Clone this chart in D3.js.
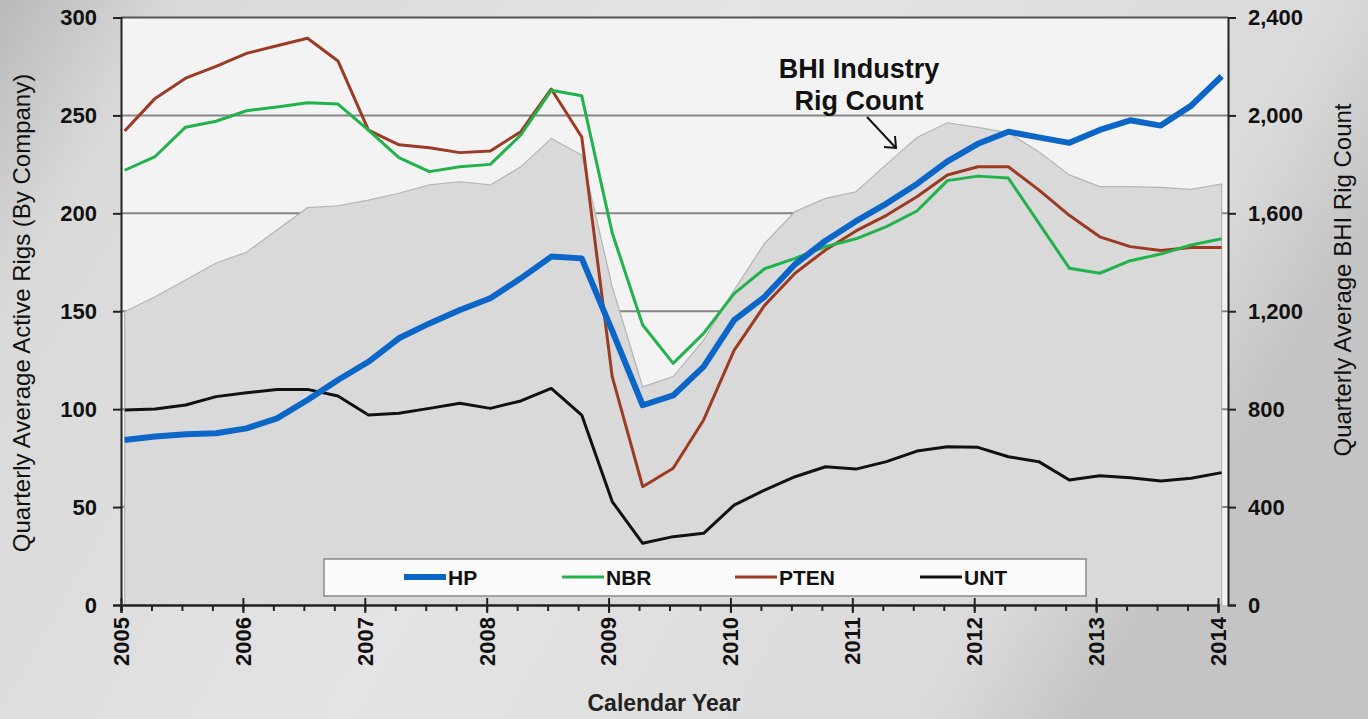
<!DOCTYPE html>
<html>
<head>
<meta charset="utf-8">
<script src="https://cdn.jsdelivr.net/npm/d3@7"></script>
<style>
  html, body { margin: 0; padding: 0; background: #d0d0d0; }
  svg { display: block; font-family: "Liberation Sans", Arial, sans-serif; }
</style>
</head>
<body>
<svg width="1368" height="719"></svg>
<script>
// quarterly averages, 2005 Q1 .. 2014 Q1
var quarters = ["2005Q1","2005Q2","2005Q3","2005Q4","2006Q1","2006Q2","2006Q3","2006Q4",
  "2007Q1","2007Q2","2007Q3","2007Q4","2008Q1","2008Q2","2008Q3","2008Q4",
  "2009Q1","2009Q2","2009Q3","2009Q4","2010Q1","2010Q2","2010Q3","2010Q4",
  "2011Q1","2011Q2","2011Q3","2011Q4","2012Q1","2012Q2","2012Q3","2012Q4",
  "2013Q1","2013Q2","2013Q3","2013Q4","2014Q1"];

var hp = [84.3, 86, 87.2, 87.7, 90.2, 95.3, 104.7, 114.9, 124.2, 136.2, 143.8, 150.6,
  156.6, 166.8, 177.9, 177, 140, 102, 107, 121.7, 145.5, 157.4, 174, 186,
  196, 205, 215, 226.5, 235.5, 241.7, 238.8, 236, 242.6, 247.5, 244.8, 255, 270];

var nbr = [222, 229, 244, 247, 252.4, 254.3, 256.5, 255.8, 242.5, 228.4, 221.3, 223.8,
  225, 240, 262.8, 260, 190, 143, 123.4, 138.7, 159, 171.7, 177, 183,
  187, 193.2, 201.2, 216.7, 219, 218, 195, 172, 169.4, 175.8, 179.2, 183.8, 187];

var pten = [242, 258.7, 269, 275, 281.7, 285.6, 289.4, 277.8, 242.5, 235, 233.5, 231,
  231.8, 241.7, 263.5, 239, 116.6, 60.4, 69.8, 94.5, 130, 153, 169.4, 181.3,
  191, 199, 208.5, 219.6, 223.8, 223.8, 212, 199, 188, 183, 181, 182.5, 182.5];

var unt = [99.6, 100.1, 102.1, 106.4, 108.4, 110.1, 110.1, 106.7, 97, 97.9, 100.4, 103,
  100.4, 104.2, 110.6, 97, 52.8, 31.5, 34.9, 36.6, 51, 58.7, 65.5, 70.6,
  69.4, 73.2, 78.6, 80.8, 80.5, 75.7, 73.2, 63.8, 66, 65, 63.3, 64.7, 67.6];

var bhi = [1198, 1259, 1328, 1397, 1441, 1532, 1623, 1631, 1654, 1682, 1716, 1729,
  1716, 1790, 1906, 1838, 1300, 891, 933, 1082, 1287, 1477, 1607, 1661,
  1688, 1800, 1910, 1970, 1951, 1929, 1852, 1757, 1709, 1709, 1706, 1698, 1720];

var years = [2005, 2006, 2007, 2008, 2009, 2010, 2011, 2012, 2013, 2014];
var leftTicks = [0, 50, 100, 150, 200, 250, 300];
var rightTicks = [0, 400, 800, 1200, 1600, 2000, 2400];

var series = [
  {name: "HP", values: hp, color: "#0b66c8", width: 6},
  {name: "NBR", values: nbr, color: "#22b24c", width: 3},
  {name: "PTEN", values: pten, color: "#9c3b24", width: 3},
  {name: "UNT", values: unt, color: "#111111", width: 3}
];

var svg = d3.select("svg"),
    plotLeft = 121, plotRight = 1228, plotTop = 17.5, plotBottom = 605;

// quarter label -> fractional year position
function qt(q) { return +q.slice(0, 4) + (+q.slice(5) - 1) * 0.25 + 0.03; }

var x = d3.scaleLinear().domain([2005, 2014]).range([plotLeft, 1218]),
    yL = d3.scaleLinear().domain([0, 300]).range([plotBottom, plotTop]),
    yR = d3.scaleLinear().domain([0, 2400]).range([plotBottom, plotTop]);

// background
var defs = svg.append("defs");
var grad = defs.append("linearGradient").attr("id", "bg").attr("x1", "0").attr("y1", "0").attr("x2", "1").attr("y2", "0.3");
grad.append("stop").attr("offset", "0").attr("stop-color", "#b9b9b9");
grad.append("stop").attr("offset", "0.12").attr("stop-color", "#d9d9d9");
grad.append("stop").attr("offset", "0.5").attr("stop-color", "#e4e4e4");
grad.append("stop").attr("offset", "0.9").attr("stop-color", "#dadada");
grad.append("stop").attr("offset", "1").attr("stop-color", "#c4c4c4");
svg.append("rect").attr("width", 1368).attr("height", 719).attr("fill", "url(#bg)");

svg.append("rect")
    .attr("x", plotLeft).attr("y", plotTop)
    .attr("width", plotRight - plotLeft).attr("height", plotBottom - plotTop)
    .attr("fill", "#f3f3f3");

// gridlines
svg.append("g").selectAll("line")
  .data(leftTicks.filter(function(d) { return d > 0; }))
  .enter().append("line")
    .attr("x1", plotLeft).attr("x2", plotRight)
    .attr("y1", function(d) { return yL(d); })
    .attr("y2", function(d) { return yL(d); })
    .attr("stroke", function(d) { return d === 300 ? "#555" : "#858585"; })
    .attr("stroke-width", 2);

// BHI industry rig count area
var area = d3.area()
    .x(function(d, i) { return x(qt(quarters[i])); })
    .y0(plotBottom)
    .y1(function(d) { return yR(d); });

svg.append("path")
    .datum(bhi)
    .attr("d", area)
    .attr("fill", "#d9d9d9")
    .attr("stroke", "#b4b4b4")
    .attr("stroke-width", 1.2);

// company lines
var line = d3.line()
    .x(function(d, i) { return x(qt(quarters[i])); })
    .y(function(d) { return yL(d); });

svg.append("g").selectAll("path")
  .data(series.slice().reverse())
  .enter().append("path")
    .attr("d", function(d) { return line(d.values); })
    .attr("fill", "none")
    .attr("stroke", function(d) { return d.color; })
    .attr("stroke-width", function(d) { return d.width; })
    .attr("stroke-linejoin", "round");

// axes
var axL = svg.append("g")
    .attr("transform", "translate(" + plotLeft + ",0)")
    .call(d3.axisLeft(yL).tickValues(leftTicks).tickSize(8).tickPadding(16));

var axR = svg.append("g")
    .attr("transform", "translate(" + plotRight + ",0)")
    .call(d3.axisRight(yR).tickValues(rightTicks).tickSize(8).tickPadding(12).tickFormat(d3.format(",")));

var quarterTicks = d3.range(2005, 2014.01, 0.25);
var axQ = svg.append("g")
    .attr("transform", "translate(0," + plotBottom + ")")
    .call(d3.axisBottom(x).tickValues(quarterTicks).tickSize(6).tickFormat(""));

var axB = svg.append("g")
    .attr("transform", "translate(0," + plotBottom + ")")
    .call(d3.axisBottom(x).tickValues(years).tickSize(8).tickFormat(""));
axB.selectAll(".tick line").attr("y1", -7);

[axL, axR, axQ, axB].forEach(function(a) {
  a.selectAll(".domain").attr("stroke", "#222").attr("stroke-width", 2);
  a.selectAll(".tick line").attr("stroke", "#222").attr("stroke-width", 2);
  a.selectAll("text").attr("font-size", 22).attr("font-weight", "bold")
    .attr("fill", "#111").attr("font-family", "Liberation Sans, Arial, sans-serif");
});

// rotated year labels
svg.append("g").selectAll("text")
  .data(years)
  .enter().append("text")
    .attr("transform", function(d) { return "translate(" + x(d) + ",617) rotate(-90)"; })
    .attr("dy", "0.36em")
    .attr("text-anchor", "end")
    .attr("font-size", 22)
    .attr("font-weight", "bold")
    .attr("fill", "#111")
    .text(function(d) { return d; });

// axis titles
svg.append("text")
    .attr("transform", "translate(30,313) rotate(-90)")
    .attr("text-anchor", "middle")
    .attr("font-size", 24)
    .attr("fill", "#111")
    .text("Quarterly Average Active Rigs (By Company)");

svg.append("text")
    .attr("transform", "translate(1351,280) rotate(-90)")
    .attr("text-anchor", "middle")
    .attr("font-size", 24)
    .attr("fill", "#111")
    .text("Quarterly Average BHI Rig Count");

svg.append("text")
    .attr("x", 664).attr("y", 711)
    .attr("text-anchor", "middle")
    .attr("font-size", 23)
    .attr("font-weight", "bold")
    .attr("fill", "#222")
    .text("Calendar Year");

// annotation
var note = svg.append("text")
    .attr("text-anchor", "middle")
    .attr("font-size", 27)
    .attr("font-weight", "bold")
    .attr("fill", "#111");
note.append("tspan").attr("x", 859).attr("y", 78).text("BHI Industry");
note.append("tspan").attr("x", 859).attr("y", 110).text("Rig Count");

svg.append("line")
    .attr("x1", 867).attr("y1", 117).attr("x2", 896).attr("y2", 148)
    .attr("stroke", "#111").attr("stroke-width", 2);
svg.append("path")
    .attr("d", "M884,147 L896,148 L895,136")
    .attr("fill", "none").attr("stroke", "#111").attr("stroke-width", 2);

// legend
var legend = svg.append("g");
legend.append("rect")
    .attr("x", 324).attr("y", 559).attr("width", 762).attr("height", 37)
    .attr("fill", "#fafafa").attr("stroke", "#8a8a8a").attr("stroke-width", 1.5);

var legendX = [404, 562, 735, 920];
var items = legend.selectAll(".item")
  .data(series)
  .enter().append("g")
    .attr("transform", function(d, i) { return "translate(" + legendX[i] + ",577)"; });

items.append("line")
    .attr("x1", 0).attr("x2", 42)
    .attr("stroke", function(d) { return d.color; })
    .attr("stroke-width", function(d) { return d.width; });

items.append("text")
    .attr("x", 44).attr("y", 8)
    .attr("font-size", 21)
    .attr("font-weight", "bold")
    .attr("fill", "#111")
    .text(function(d) { return d.name; });
</script>
</body>
</html>
